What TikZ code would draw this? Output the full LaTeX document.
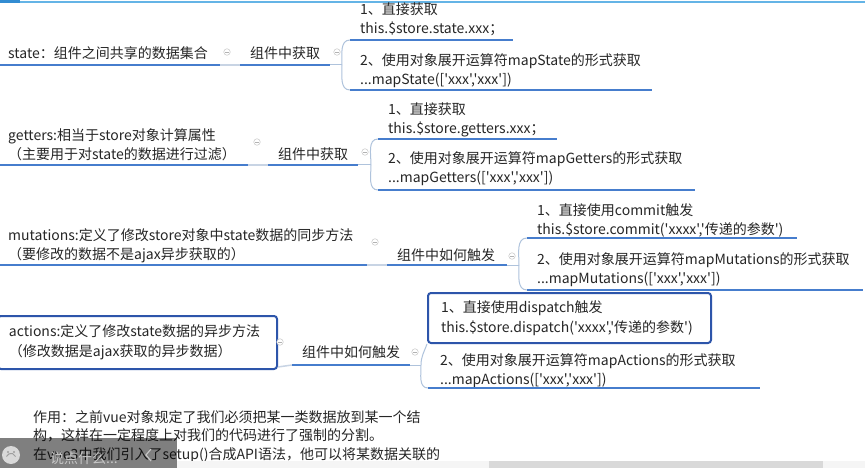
\documentclass[tikz,border=0pt]{standalone}
\usepackage{fontspec}
\setmainfont{Noto Sans CJK SC}[Ligatures=TeXOff]
\definecolor{ublue}{RGB}{70,125,205}
\definecolor{cgray}{RGB}{200,212,228}
\definecolor{bgray}{RGB}{175,195,220}
\definecolor{boxblue}{RGB}{45,85,170}
\definecolor{topline}{RGB}{100,180,230}
\definecolor{topblock}{RGB}{50,140,210}
\begin{document}
\begin{tikzpicture}[x=1pt,y=-1pt,
  txt/.style={inner sep=0pt, anchor=base west, align=left, text width=340pt,
    font=\fontsize{14}{19.5}\selectfont, text=black!85},
  uline/.style={draw=ublue, line width=2pt},
  conn/.style={draw=cgray, line width=1.5pt},
  brk/.style={draw=bgray, line width=1pt},
  tog/.style={circle, draw=gray!45, fill=white, line width=0.5pt, minimum size=6.5pt, inner sep=0pt,
    path picture={\draw[gray!60, line width=0.5pt] ([xshift=-1.7pt]path picture bounding box.center) -- ([xshift=1.7pt]path picture bounding box.center);}},
  bluebox/.style={draw=boxblue, line width=2pt, rounded corners=3pt, align=left, anchor=north west,
    inner ysep=0pt, font=\fontsize{14}{19.5}\selectfont, text=black!85}
]
\useasboundingbox (0,0) rectangle (865,468);
\fill[white] (0,0) rectangle (865,468);
% window top line
\fill[topline] (0,1.2) rectangle (865,3);
\fill[topblock] (0,0) rectangle (20,3);

% ---------- state ----------
\coordinate (n1a) at (0,65);   \coordinate (n1b) at (220,65);
\coordinate (g1a) at (240,65); \coordinate (g1b) at (330,65);
\coordinate (i11a) at (350,40); \coordinate (i11b) at (513,40);
\coordinate (i12a) at (350,90); \coordinate (i12b) at (652,90);
\coordinate (b1) at (342,65);
\node[txt] (n1) at (8,58.3) {state：组件之间共享的数据集合};
\node[txt] (g1) at (250,58.3) {组件中获取};
\node[txt] (i11) at (360,14.3) {1、直接获取\\this.\$store.state.xxx；};
\node[txt] (i12) at (360,65.3) {2、使用对象展开运算符mapState的形式获取\\...mapState(['xxx','xxx'])};
\draw[conn] (n1b) -- (g1a);
\draw[brk] (g1b) -- (b1);
\draw[brk] (i11a) to[out=180,in=90] (b1) to[out=-90,in=180] (i12a);
\draw[uline] (n1a) -- (n1b);
\draw[uline] (g1a) -- (g1b);
\draw[uline] (i11a) -- (i11b);
\draw[uline] (i12a) -- (i12b);
\node[tog] (t11) at (227,52) {};
\node[tog] (t12) at (337,52) {};

% ---------- getters ----------
\coordinate (n2a) at (0,165);   \coordinate (n2b) at (248,165);
\coordinate (g2a) at (268,165); \coordinate (g2b) at (358,165);
\coordinate (i21a) at (378,139); \coordinate (i21b) at (557,139);
\coordinate (i22a) at (378,190); \coordinate (i22b) at (695,190);
\coordinate (b2) at (371,165);
\node[txt] (n2) at (8,140.3) {getters:相当于store对象计算属性\\（主要用于对state的数据进行过滤）};
\node[txt] (g2) at (278,159.3) {组件中获取};
\node[txt] (i21) at (388,114.3) {1、直接获取\\this.\$store.getters.xxx；};
\node[txt] (i22) at (388,163.3) {2、使用对象展开运算符mapGetters的形式获取\\...mapGetters(['xxx','xxx'])};
\draw[conn] (n2b) -- (g2a);
\draw[brk] (g2b) -- (b2);
\draw[brk] (i21a) to[out=180,in=90] (b2) to[out=-90,in=180] (i22a);
\draw[uline] (n2a) -- (n2b);
\draw[uline] (g2a) -- (g2b);
\draw[uline] (i21a) -- (i21b);
\draw[uline] (i22a) -- (i22b);
\node[tog] (t21) at (257,142) {};
\node[tog] (t22) at (365,152) {};

% ---------- mutations ----------
\coordinate (n3a) at (0,265);   \coordinate (n3b) at (367,265);
\coordinate (g3a) at (387,265); \coordinate (g3b) at (507,265);
\coordinate (i31a) at (527,238); \coordinate (i31b) at (797,238);
\coordinate (i32a) at (527,290); \coordinate (i32b) at (863,290);
\coordinate (b3) at (519,265);
\node[txt] (n3) at (8,240.3) {mutations:定义了修改store对象中state数据的同步方法\\（要修改的数据不是ajax异步获取的）};
\node[txt] (g3) at (397,260.3) {组件中如何触发};
\node[txt] (i31) at (537,215.3) {1、直接使用commit触发\\this.\$store.commit('xxxx','传递的参数')};
\node[txt] (i32) at (537,264.3) {2、使用对象展开运算符mapMutations的形式获取\\...mapMutations(['xxx','xxx'])};
\draw[conn] (n3b) -- (g3a);
\draw[brk] (g3b) -- (b3);
\draw[brk] (i31a) to[out=180,in=90] (b3) to[out=-90,in=180] (i32a);
\draw[uline] (n3a) -- (n3b);
\draw[uline] (g3a) -- (g3b);
\draw[uline] (i31a) -- (i31b);
\draw[uline] (i32a) -- (i32b);
\node[tog] (t31) at (375,242) {};
\node[tog] (t32) at (512,256) {};

% ---------- actions ----------
\node[bluebox, inner xsep=11pt, text width=257pt, minimum width=279pt, minimum height=53pt] (n4) at (-3,315)
  {actions:定义了修改state数据的异步方法\\（修改数据是ajax获取的异步数据）};
\coordinate (g4a) at (292,365); \coordinate (g4b) at (410,365);
\coordinate (i42a) at (428,388); \coordinate (i42b) at (760,388);
\coordinate (b4) at (421,365);
\node[txt] (g4) at (302,357.3) {组件中如何触发};
\node[bluebox, inner xsep=13pt, text width=257pt, minimum width=283pt, minimum height=50pt] (i41) at (427,292)
  {1、直接使用dispatch触发\\this.\$store.dispatch('xxxx','传递的参数')};
\node[txt] (i42) at (440,365.3) {2、使用对象展开运算符mapActions的形式获取\\...mapActions(['xxx','xxx'])};
\draw[conn] ([yshift=3pt]n4.south east) -- (g4a);
\draw[brk] (g4b) -- (b4);
\draw[brk] (i41.south west) to[out=-110,in=90] (b4) to[out=-90,in=180] (i42a);
\draw[uline] (g4a) -- (g4b);
\draw[uline] (i42a) -- (i42b);
\node[tog] (t41) at (280,342) {};
\node[tog] (t42) at (415,352) {};

% ---------- bottom note ----------
\node[txt, text width=460pt, font=\fontsize{14}{18.5}\selectfont] (note) at (33,422.3)
  {作用：之前vue对象规定了我们必须把某一类数据放到某一个结\\构，这样在一定程度上对我们的代码进行了强制的分割。\\在vue3中我们引入了setup()合成API语法，他可以将某数据关联的};

% ---------- player overlay & scrollbar ----------
\fill[black, opacity=0.5] (0,438) rectangle (177,468);
\fill[gray!30] (11,455) circle (9);
\fill[gray!75] (8,452) circle (1.1) (14,452) circle (1.1);
\draw[gray!75, line width=1pt] (6.5,456.5) arc[start angle=200, end angle=340, radius=4.8];
\node[txt, text=gray!45] (say) at (50,463) {说点什么...};
\draw[gray!45, line width=1.2pt] (151,449) -- (146,455) -- (151,461);
\fill[gray!8] (177,461) rectangle (865,468);
\fill[gray!30] (489,461) rectangle (823,468);
\end{tikzpicture}
\end{document}
